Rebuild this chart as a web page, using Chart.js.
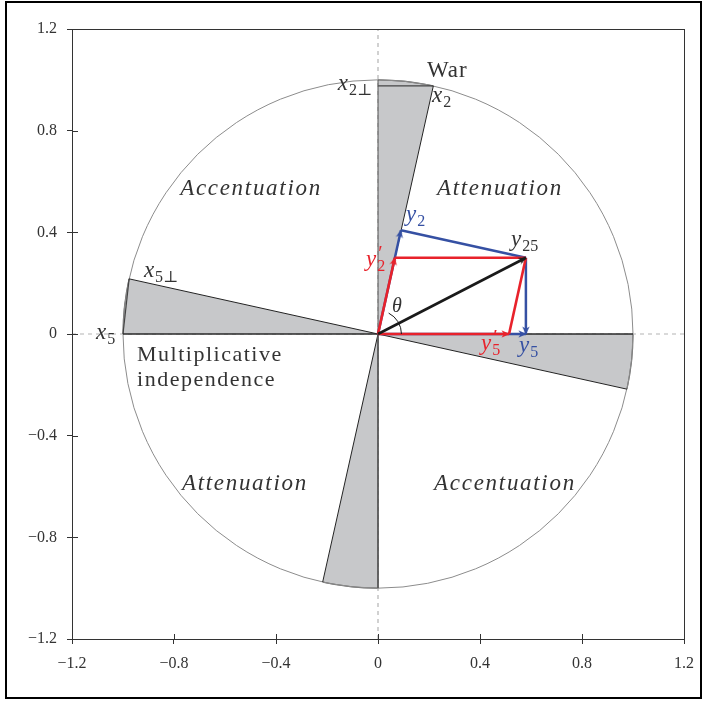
<!DOCTYPE html>
<html>
<head>
<meta charset="utf-8">
<script src="https://cdn.jsdelivr.net/npm/chart.js@4.4.1/dist/chart.umd.min.js"></script>
<style>
  html, body { margin: 0; padding: 0; background: #fff; }
  #wrap { position: relative; width: 704px; height: 702px; }
  #wrap canvas { position: absolute; left: 0; top: 0; }
  #frame { position: absolute; left: 5px; top: 1px; width: 697px; height: 698px;
           box-sizing: border-box; border: 2px solid #000; pointer-events: none; }
</style>
</head>
<body>
<div id="wrap">
  <canvas id="c" width="704" height="702"></canvas>
  <div id="frame"></div>
</div>
<script>
// Axis ticks (both axes)
const tickValues = [-1.2, -0.8, -0.4, 0, 0.4, 0.8, 1.2];

// Shaded sectors of the unit circle, [from, to] in degrees
const sectorAngles = [[77.5, 90], [167.5, 180], [257.5, 270], [347.5, 360]];

// Angle theta between the x5 axis and the x2 axis (arc drawn near the origin)
const thetaArc = [0, 63];
const thetaRadius = 0.092;

// Basis points
const origin = [0, 0];
const x2 = [0.217, 0.976];
const x2Perp = [0, 0.976];
const x5 = [-1, 0];
const x5Perp = [-0.976, 0.217];
const upEdge = [0, 1];
const downEdge = [0, -1];
const rightEdge = [1, 0];
const lowerSlant = [-0.217, -0.976];
const rightSlant = [0.976, -0.217];

// Response vector and its decompositions
const y25 = [0.58, 0.30];
const y2 = [0.090, 0.408];          // orthogonal projection on x2
const y5 = [0.58, 0];               // orthogonal projection on x5
const y2Oblique = [0.066, 0.30];    // oblique component along x2
const y5Oblique = [0.514, 0];       // oblique component along x5

// Dashed guides through the origin
const guideV = [[0, -1.2], [0, 1.2]];
const guideH = [[-1.2, 0], [1.2, 0]];

const RED = '#e8222b';
const BLUE = '#3550a3';
const BLACK = '#1a1a1a';
const TEXT = '#333333';
const SERIF = '"Liberation Serif", "Times New Roman", Times, "DejaVu Serif", serif';

function arrowHead(color) {
  const c = document.createElement('canvas');
  c.width = 18; c.height = 18;
  const g = c.getContext('2d');
  g.fillStyle = color;
  g.beginPath();
  g.moveTo(9, 8.5);
  g.lineTo(5.3, 16.5);
  g.lineTo(9, 14.3);
  g.lineTo(12.7, 16.5);
  g.closePath();
  g.fill();
  return c;
}
const heads = { red: arrowHead(RED), blue: arrowHead(BLUE), black: arrowHead(BLACK) };

const pts = arr => arr.map(p => ({ x: p[0], y: p[1] }));

function segment(a, b, color, width, order, extra) {
  return Object.assign({
    data: pts([a, b]), showLine: true, borderColor: color, borderWidth: width,
    pointRadius: 0, order: order, borderCapStyle: 'butt', clip: false
  }, extra || {});
}

function arrow(a, b, color, head, width, order) {
  const rot = 90 - Math.atan2(b[1] - a[1], b[0] - a[0]) * 180 / Math.PI;
  return segment(a, b, color, width, order, {
    pointRadius: [0, 1], pointStyle: [false, head], pointRotation: [0, rot]
  });
}

const datasets = [
  // guides
  segment(guideV[0], guideV[1], '#b3b3b3', 1.2, 50, { borderDash: [4, 4] }),
  segment(guideH[0], guideH[1], '#b3b3b3', 1.2, 50, { borderDash: [4, 4] }),
  // sector edges
  segment(origin, upEdge, '#555', 1, 40),
  segment(origin, downEdge, '#555', 1, 40),
  segment(origin, rightEdge, '#2a2a2a', 1.4, 40),
  segment(origin, x5, '#2a2a2a', 1.4, 40),
  segment(origin, x2, '#222', 1, 40),
  segment(origin, x5Perp, '#222', 1, 40),
  segment(origin, lowerSlant, '#222', 1, 40),
  segment(origin, rightSlant, '#222', 1, 40),
  segment(x2Perp, x2, '#444', 1.2, 40),
  segment(x5, x5Perp, '#444', 1.2, 40),
  // orthogonal decomposition (blue)
  arrow(origin, y5, BLUE, heads.blue, 2.5, 30),
  arrow(origin, y2, BLUE, heads.blue, 2.5, 30),
  segment(y2, y25, BLUE, 2.5, 30),
  arrow(y25, y5, BLUE, heads.blue, 2.5, 30),
  // oblique decomposition (red)
  arrow(origin, y2Oblique, RED, heads.red, 2.6, 20),
  arrow(origin, y5Oblique, RED, heads.red, 2.6, 20),
  segment(y2Oblique, y25, RED, 2.6, 20),
  segment(y25, y5Oblique, RED, 2.6, 20),
  // response vector
  arrow(origin, y25, BLACK, heads.black, 2.6, 10)
];

// Text annotations placed in data coordinates
const plainLabels = [
  { t: 'War', x: 0.192, y: 1.011, font: '23px ' + SERIF, ls: 1, align: 'left' },
  { t: 'Accentuation', x: -0.498, y: 0.547, font: 'italic 23px ' + SERIF, ls: 1.7, align: 'center' },
  { t: 'Attenuation', x: 0.478, y: 0.547, font: 'italic 23px ' + SERIF, ls: 1.7, align: 'center' },
  { t: 'Attenuation', x: -0.522, y: -0.612, font: 'italic 23px ' + SERIF, ls: 1.7, align: 'center' },
  { t: 'Accentuation', x: 0.498, y: -0.612, font: 'italic 23px ' + SERIF, ls: 1.7, align: 'center' },
  { t: 'Multiplicative', x: -0.945, y: -0.105, font: '22px ' + SERIF, ls: 1.5, align: 'left' },
  { t: 'independence', x: -0.945, y: -0.203, font: '22px ' + SERIF, ls: 1.5, align: 'left' },
  { t: 'θ', x: 0.055, y: 0.088, font: 'italic 20px ' + SERIF, ls: 0, align: 'left' }
];
const mathLabels = [
  { base: 'x', sub: '2⊥', x: -0.0235, y: 0.961, color: TEXT, align: 'right' },
  { base: 'x', sub: '2', x: 0.212, y: 0.913, color: TEXT, align: 'left' },
  { base: 'x', sub: '5⊥', x: -0.918, y: 0.225, color: TEXT, align: 'left' },
  { base: 'x', sub: '5', x: -1.106, y: -0.019, color: TEXT, align: 'left' },
  { base: 'y', sub: '2', x: 0.110, y: 0.445, color: BLUE, align: 'left' },
  { base: 'y', sub: '25', x: 0.522, y: 0.347, color: TEXT, align: 'left' },
  { base: 'y', sub: '2', x: -0.047, y: 0.268, color: RED, align: 'left', prime: true },
  { base: 'y', sub: '5', x: 0.404, y: -0.062, color: RED, align: 'left', prime: true },
  { base: 'y', sub: '5', x: 0.553, y: -0.070, color: BLUE, align: 'left' }
];

const fmt = v => {
  if (Math.abs(v) < 1e-9) return '0';
  return (v < 0 ? '\u2212' : '') + Math.abs(v).toFixed(1);
};

const geometryPlugin = {
  id: 'geometry',
  beforeDatasetsDraw(chart) {
    const { ctx, scales: { x, y } } = chart;
    const cx = x.getPixelForValue(0), cy = y.getPixelForValue(0);
    const rx = x.getPixelForValue(1) - cx, ry = cy - y.getPixelForValue(1);
    ctx.save();
    // shaded sectors
    ctx.fillStyle = '#c7c8ca';
    sectorAngles.forEach(([a0, a1]) => {
      const r0 = a0 * Math.PI / 180, r1 = a1 * Math.PI / 180;
      ctx.beginPath();
      ctx.moveTo(cx, cy);
      ctx.lineTo(cx + rx * Math.cos(r0), cy - ry * Math.sin(r0));
      ctx.ellipse(cx, cy, rx, ry, 0, -r0, -r1, true);
      ctx.closePath();
      ctx.fill();
      ctx.strokeStyle = '#666';
      ctx.lineWidth = 1.2;
      ctx.beginPath();
      ctx.ellipse(cx, cy, rx, ry, 0, -r0, -r1, true);
      ctx.stroke();
    });
    // unit circle
    ctx.strokeStyle = '#8c8c8c';
    ctx.lineWidth = 1;
    ctx.beginPath();
    ctx.ellipse(cx, cy, rx, ry, 0, 0, Math.PI * 2);
    ctx.stroke();
    ctx.restore();
  },
  afterDatasetsDraw(chart) {
    const { ctx, scales: { x, y } } = chart;
    const cx = x.getPixelForValue(0), cy = y.getPixelForValue(0);
    ctx.save();
    // theta arc
    const r = x.getPixelForValue(thetaRadius) - cx;
    ctx.strokeStyle = BLACK;
    ctx.lineWidth = 1;
    ctx.beginPath();
    ctx.arc(cx, cy, r, -thetaArc[0] * Math.PI / 180, -thetaArc[1] * Math.PI / 180, true);
    ctx.stroke();
    // labels
    ctx.textBaseline = 'alphabetic';
    plainLabels.forEach(L => {
      ctx.font = L.font;
      ctx.letterSpacing = L.ls + 'px';
      ctx.fillStyle = TEXT;
      let px = x.getPixelForValue(L.x);
      const w = ctx.measureText(L.t).width;
      if (L.align === 'center') px -= w / 2;
      ctx.textAlign = 'left';
      ctx.fillText(L.t, px, y.getPixelForValue(L.y));
    });
    ctx.letterSpacing = '0px';
    mathLabels.forEach(L => {
      const baseFont = 'italic 23px ' + SERIF;
      const subFont = '16px ' + SERIF;
      ctx.font = baseFont; const wb = ctx.measureText(L.base).width;
      ctx.font = subFont; const ws = ctx.measureText(L.sub).width;
      let px = x.getPixelForValue(L.x);
      const py = y.getPixelForValue(L.y);
      if (L.align === 'right') px -= wb + ws + 1;
      ctx.fillStyle = L.color;
      ctx.font = baseFont; ctx.fillText(L.base, px, py);
      ctx.font = subFont; ctx.fillText(L.sub, px + wb + 1, py + 5);
      if (L.prime) { ctx.font = '20px ' + SERIF; ctx.fillText('\u2032', px + wb + 2, py - 6); }
    });
    ctx.restore();
  },
  afterDraw(chart) {
    const { ctx, chartArea: a, scales: { x, y } } = chart;
    ctx.save();
    ctx.strokeStyle = '#333';
    ctx.lineWidth = 1;
    // frame of the plotting area
    ctx.strokeRect(a.left + 0.5, a.top + 0.5, a.right - a.left, a.bottom - a.top);
    // inner halves of the tick marks
    ctx.beginPath();
    tickValues.forEach(v => {
      const px = Math.round(x.getPixelForValue(v)) + 0.5;
      ctx.moveTo(px, a.bottom); ctx.lineTo(px, a.bottom - 5);
      const py = Math.round(y.getPixelForValue(v)) + 0.5;
      ctx.moveTo(a.left, py); ctx.lineTo(a.left + 6, py);
    });
    ctx.stroke();
    ctx.restore();
  }
};

const axisCommon = {
  type: 'linear', min: -1.2, max: 1.2,
  afterBuildTicks: s => { s.ticks = tickValues.map(v => ({ value: v })); },
  ticks: { callback: fmt, font: { family: SERIF, size: 16 }, color: TEXT,
           padding: 10, maxRotation: 0, autoSkip: false },
  grid: { drawOnChartArea: false, drawTicks: true, tickLength: 5, color: '#333', lineWidth: 1 },
  border: { display: true, color: '#333', width: 1 }
};

new Chart(document.getElementById('c'), {
  type: 'scatter',
  data: { datasets },
  options: {
    responsive: false,
    animation: false,
    events: [],
    layout: { padding: { top: 29, right: 20, left: 0, bottom: 0 } },
    plugins: { legend: { display: false }, tooltip: { enabled: false } },
    scales: {
      x: Object.assign({}, axisCommon, { afterFit: s => { s.height = 63; } }),
      y: Object.assign({}, axisCommon, { afterFit: s => { s.width = 72; } })
    }
  },
  plugins: [geometryPlugin]
});
</script>
</body>
</html>
